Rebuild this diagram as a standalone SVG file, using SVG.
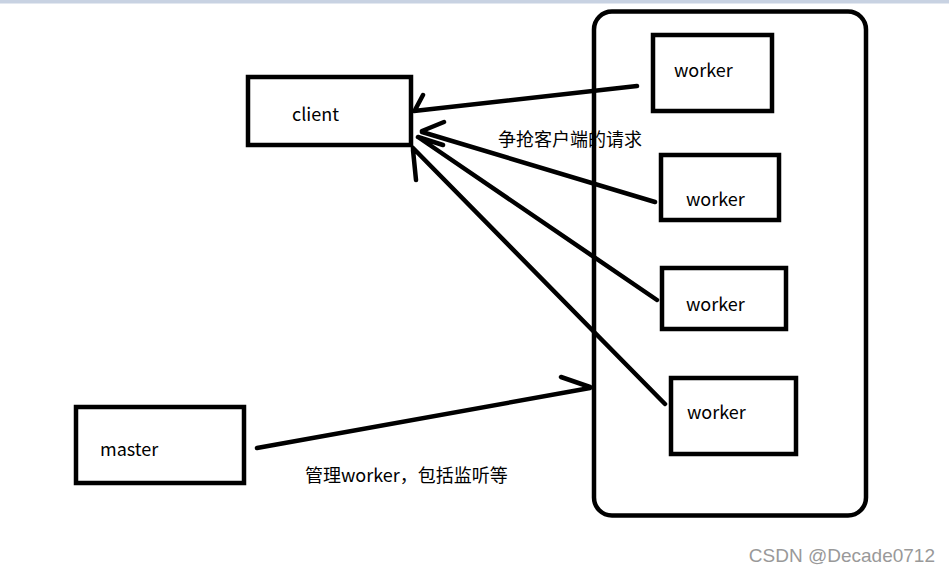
<svg xmlns="http://www.w3.org/2000/svg" width="949" height="573" viewBox="0 0 949 573">
<style>
.box{fill:none;stroke:#000;stroke-width:4.5}
.ln{fill:none;stroke:#000;stroke-width:4.5;stroke-linecap:round}
.t{font-family:"Noto Sans CJK SC","Noto Sans",sans-serif;font-size:18px;fill:#000}
.wm{font-family:"Liberation Sans",Arial,sans-serif;font-size:19px;fill:#999}
</style>
<rect x="0" y="0" width="949" height="573" fill="#fff"/>
<rect x="0" y="0" width="949" height="3.5" fill="#c8d2e2"/>
<g id="cluster"><rect class="box" x="594" y="11.5" width="272" height="504" rx="18"/></g>
<g id="client"><rect class="box" x="248" y="77" width="163" height="68"/><text class="t" x="292" y="121">client</text></g>
<g id="master"><rect class="box" x="76" y="407" width="168" height="76"/><text class="t" x="100" y="456">master</text></g>
<g id="worker1"><rect class="box" x="653" y="35" width="119" height="76"/><text class="t" x="674" y="77">worker</text></g>
<g id="worker2"><rect class="box" x="661" y="155" width="118" height="65"/><text class="t" x="686" y="206">worker</text></g>
<g id="worker3"><rect class="box" x="662" y="268" width="124" height="61"/><text class="t" x="686" y="311">worker</text></g>
<g id="worker4"><rect class="box" x="671" y="378" width="125" height="76"/><text class="t" x="687" y="419">worker</text></g>
<g id="connectors">
<path class="ln" d="M637 86 L414 111 M423 95 L415 110"/>
<path class="ln" d="M655 202 L422 132 M444 122 L422 131"/>
<path class="ln" d="M657 300 L418 137 M443 145 L418 137"/>
<path class="ln" d="M665 404 L413 148 M416 180 L413 150"/>
<path class="ln" d="M257 448 L590 388 M561 377 L590 387"/>
</g>
<text class="t" x="498" y="146">争抢客户端的请求</text>
<text class="t" x="305" y="482">管理worker，包括监听等</text>
<text class="wm" x="935" y="562" text-anchor="end">CSDN @Decade0712</text>
</svg>
